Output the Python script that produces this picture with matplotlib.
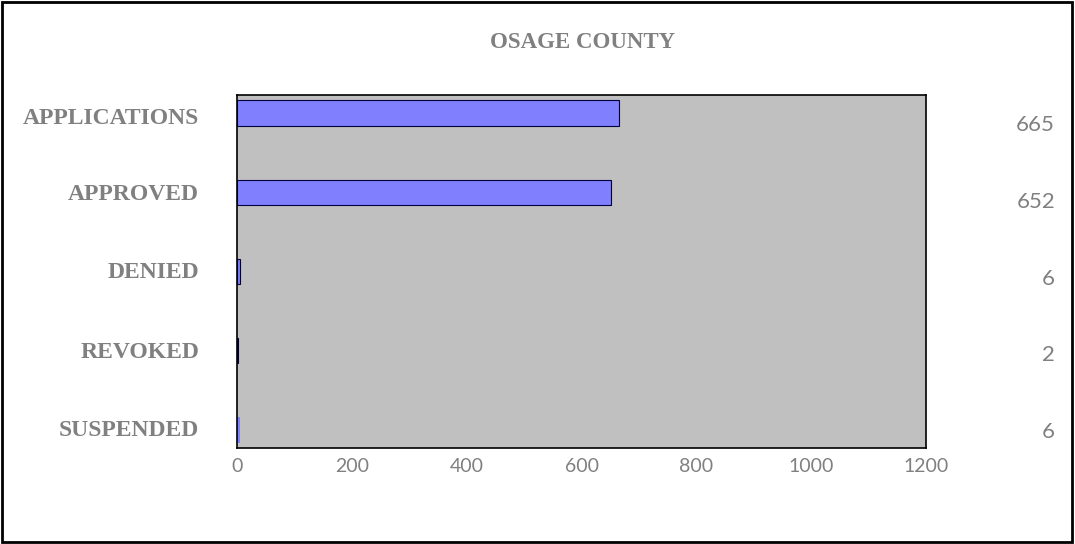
import matplotlib
matplotlib.use("Agg")
import matplotlib.pyplot as plt
from matplotlib.patches import Rectangle

categories = ["APPLICATIONS", "APPROVED", "DENIED", "REVOKED", "SUSPENDED"]
values = [665, 652, 6, 2, 6]
xticks = [0, 200, 400, 600, 800, 1000, 1200]

GRAY = "#808080"
W, H = 1075, 544

fig = plt.figure(figsize=(10.75, 5.44), dpi=100)
ax = fig.add_axes([237 / W, 96 / H, 689 / W, 353 / H])
ax.set_facecolor("#C0C0C0")

pos = list(range(len(categories)))
edges = ["#000040", "#000040", "#000040", "#000040", "none"]
ax.barh(pos, values, height=0.32, color="#8080FF", edgecolor=edges, linewidth=0.8)

ax.set_xlim(0, 1200)
ax.set_ylim(4.227, -0.227)
ax.set_xticks(xticks)
ax.set_xticklabels([str(t) for t in xticks], family="Lato", fontsize=14,
                   color=GRAY)
ax.tick_params(axis="x", length=0, pad=7)
ax.set_yticks([])
for s in ax.spines.values():
    s.set_color("black")
    s.set_linewidth(1.2)

# category labels, left of the plot
label_y = [118, 194, 273, 352, 431]
for i, c in enumerate(categories):
    fig.text(199 / W, 1 - label_y[i] / H, c, ha="right", va="center",
             family="Liberation Serif", fontweight="bold", fontsize=17, color=GRAY)

# value labels on the right
for i, v in enumerate(values):
    y = 125 + i * 76.8
    fig.text(1055 / W, 1 - y / H, str(v), ha="right", va="center",
             family="Lato", fontsize=16, color=GRAY)

fig.text(583 / W, 1 - 43 / H, "OSAGE COUNTY", ha="center", va="center",
         family="Liberation Serif", fontweight="bold", fontsize=16.5, color=GRAY)

fig.patches.append(Rectangle((2 / W, 2 / H), 1070 / W, 540 / H, fill=False,
                             edgecolor="black", linewidth=2, transform=fig.transFigure))

fig.savefig("out.png", dpi=100, facecolor="white")
